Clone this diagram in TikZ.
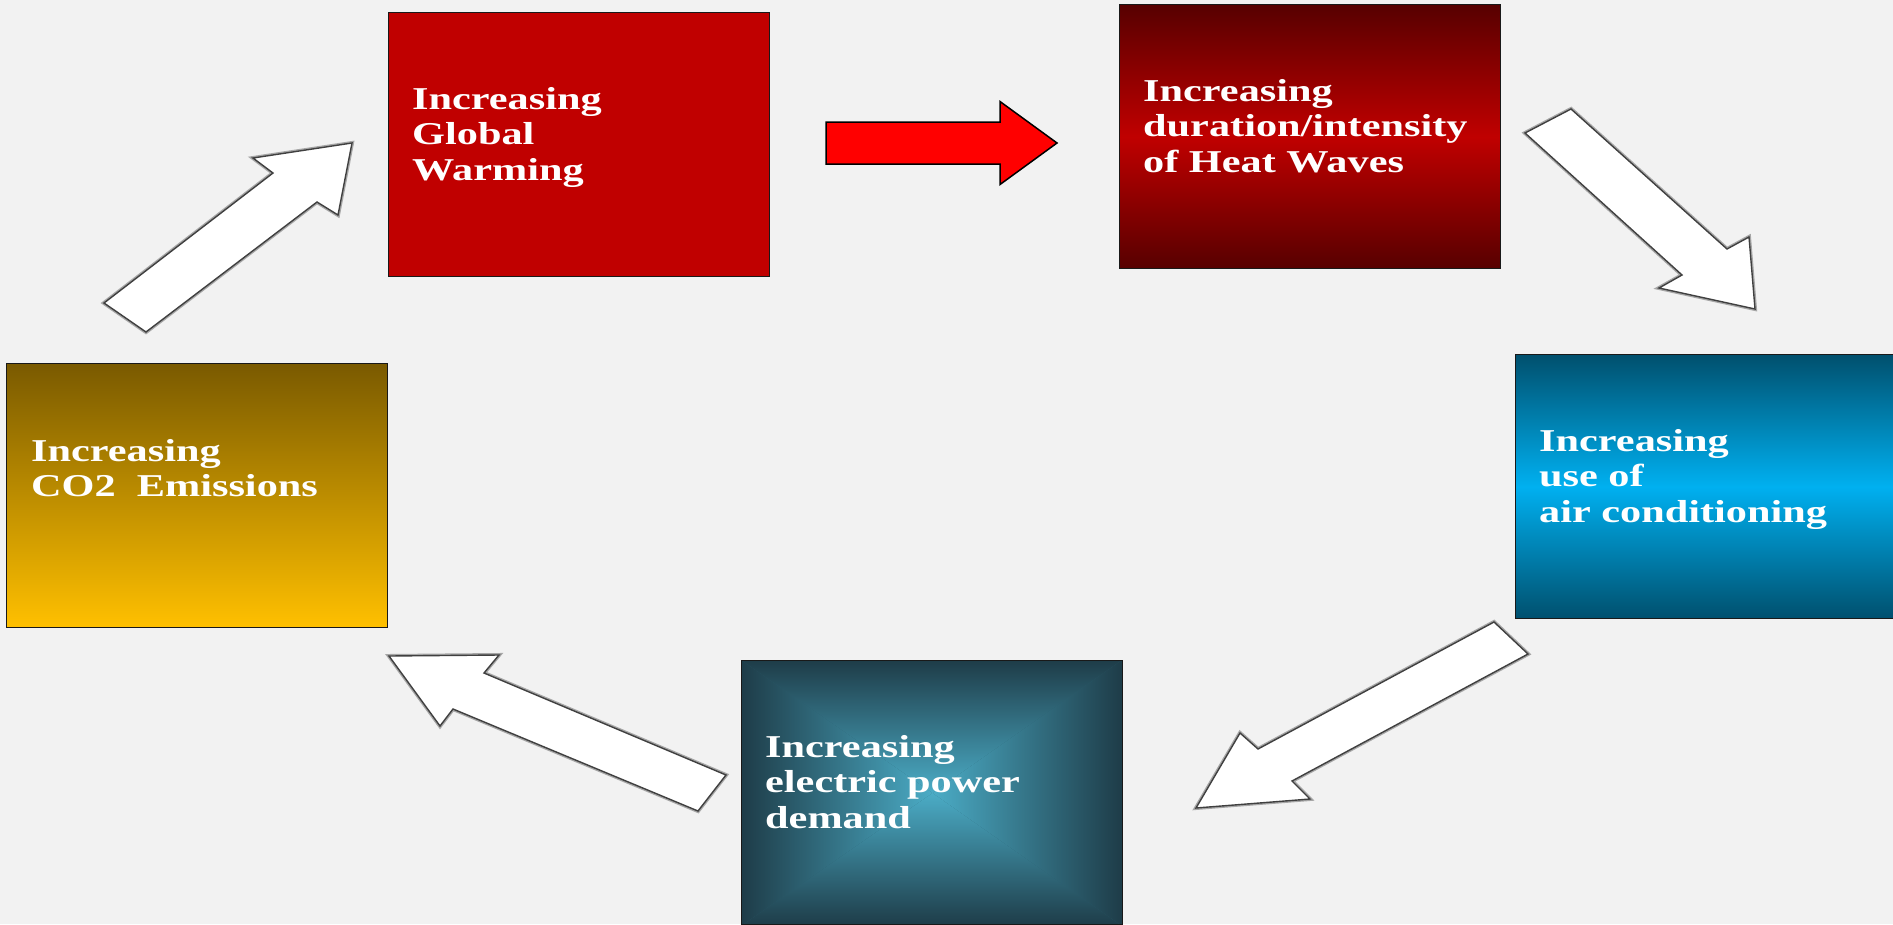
\documentclass[tikz,border=0pt]{standalone}
\usepackage{fontspec}
\usetikzlibrary{calc}
\newfontfamily\boxfont[FakeStretch=1.33]{Liberation Serif}
\definecolor{bg}{HTML}{F2F2F2}
\definecolor{gwred}{HTML}{C00000}
\definecolor{hwdark}{HTML}{570000}
\definecolor{acdark}{HTML}{00506E}
\definecolor{acmid}{HTML}{00B0F0}
\definecolor{cotop}{HTML}{7A5A00}
\definecolor{cobot}{HTML}{FFC000}
\definecolor{epdark}{HTML}{1E3C48}
\definecolor{eplight}{HTML}{4BACC6}
\newcommand\blockarr[6]{%
  \coordinate (ba-h) at ($(#3)!#6pt!(#2)$);
  \path[#1] ($(#2)!#4pt!90:(#3)$) -- ($(ba-h)!#4pt!-90:(#2)$) -- ($(ba-h)!#5pt!-90:(#2)$) -- (#3) -- ($(ba-h)!#5pt!90:(#2)$) -- ($(ba-h)!#4pt!90:(#2)$) -- ($(#2)!#4pt!-90:(#3)$) -- cycle;}
\tikzset{
  boxframe/.style={draw=black!90, line width=1.3pt, rectangle, inner sep=0pt, minimum width=381pt, minimum height=264pt, anchor=north west},
  boxtext/.style={inner sep=0pt, anchor=base west, text=white, font=\boxfont\bfseries\fontsize{31.8}{35.5}\selectfont},
  whitearrow/.style={fill=white, draw=black!75, line width=1.4pt, line join=miter, preaction={draw=black!35, line width=4pt}},
  redarrow/.style={fill=red, draw=black, line width=1.5pt},
}
\begin{document}
\begin{tikzpicture}[x=1pt,y=-1pt]
\useasboundingbox (0,0) rectangle (1893,924);
\fill[bg] (0,0) rectangle (1893,924);
\clip (0,0) rectangle (1893,924);

% boxes
\node[boxframe, fill=gwred] (gw) at (388,12) {};
\node[boxframe, top color=hwdark, bottom color=hwdark, middle color=gwred] (hw) at (1119,4) {};
\node[boxframe, top color=acdark, bottom color=acdark, middle color=acmid] (ac) at (1515,354) {};
\node[boxframe, top color=cotop, bottom color=cobot] (co) at (6,363) {};
% rectangular gradient for the power-demand box
\coordinate (epc) at (932.5,793);
\fill[epdark!70!eplight] (741,660) rectangle (1122,926);
\begin{scope}
  \clip (741,660) -- (1122,660) -- (epc) -- cycle;
  \shade[top color=epdark, bottom color=eplight] (741,660) rectangle (1122,793);
\end{scope}
\begin{scope}
  \clip (741,926) -- (1122,926) -- (epc) -- cycle;
  \shade[top color=eplight, bottom color=epdark] (741,793) rectangle (1122,926);
\end{scope}
\begin{scope}
  \clip (741,660) -- (741,926) -- (epc) -- cycle;
  \shade[left color=epdark, right color=eplight] (741,660) rectangle (932.5,926);
\end{scope}
\begin{scope}
  \clip (1122,660) -- (1122,926) -- (epc) -- cycle;
  \shade[left color=eplight, right color=epdark] (932.5,660) rectangle (1122,926);
\end{scope}
\node[boxframe] (ep) at (741,660) {};

% texts
\node[boxtext] (gwt) at (412,109) {\vtop{\hbox{Increasing}\hbox{Global}\hbox{Warming}}};
\node[boxtext] (hwt) at (1143,101) {\vtop{\hbox{Increasing}\hbox{duration/intensity}\hbox{of Heat Waves}}};
\node[boxtext] (act) at (1539,451) {\vtop{\hbox{Increasing}\hbox{use of}\hbox{air conditioning}}};
\node[boxtext] (cot) at (31,461) {\vtop{\hbox{Increasing}\hbox{CO2\ \ Emissions}}};
\node[boxtext] (ept) at (765,757) {\vtop{\hbox{Increasing}\hbox{electric power}\hbox{demand}}};

% arrows
\coordinate (r-s) at (826,143);  \coordinate (r-t) at (1057,143);
\coordinate (a1t) at (352,143);
\coordinate (a2t) at (1755,309);
\coordinate (a3t) at (1196,808);
\coordinate (a4t) at (389,656);
\blockarr{redarrow}{r-s}{r-t}{21}{41.5}{57}
\path[whitearrow] (104,303) -- (273,173) -- (253,158) -- (a1t) -- (338,215) -- (317,202) -- (146,332) -- cycle;
\path[whitearrow] (1525,133) -- (1682,275) -- (1659,288) -- (a2t) -- (1749,237) -- (1727,249) -- (1571,109) -- cycle;
\path[whitearrow] (1494,622) -- (1258,749) -- (1240,733) -- (a3t) -- (1310,799) -- (1292,781) -- (1528,654) -- cycle;
\path[whitearrow] (726,775) -- (484,673) -- (499,655) -- (a4t) -- (440,726) -- (453,709) -- (698,811) -- cycle;
\end{tikzpicture}
\end{document}
